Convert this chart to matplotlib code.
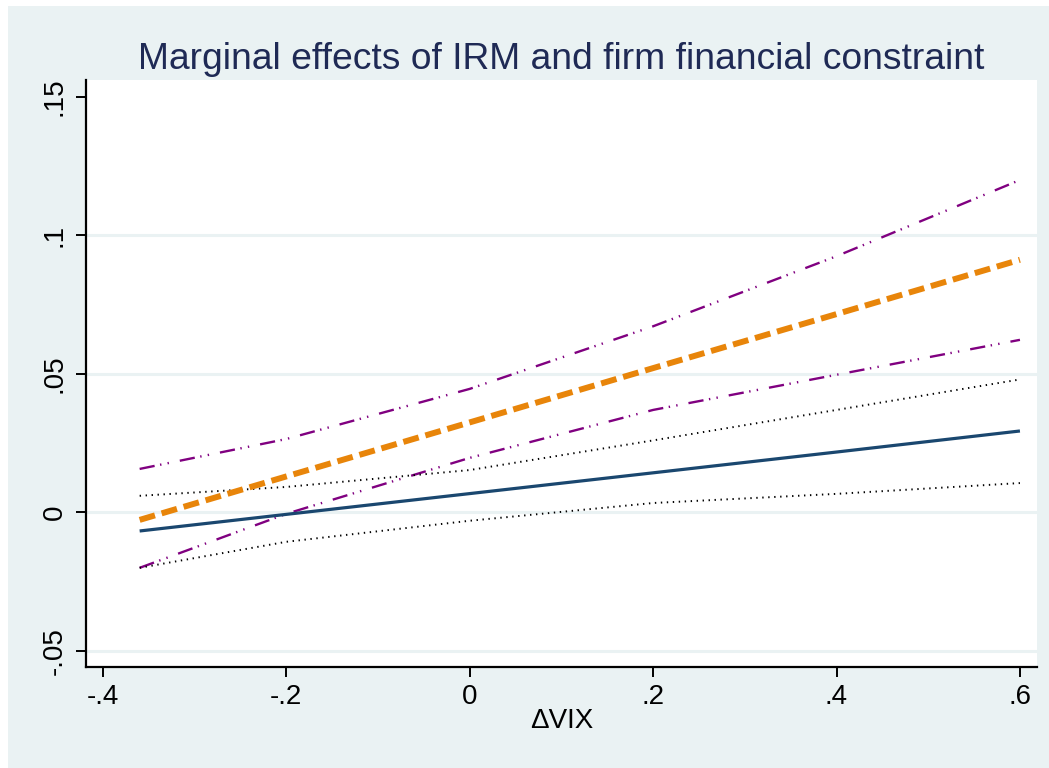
import matplotlib
matplotlib.use("Agg")
import matplotlib.pyplot as plt
from matplotlib.patches import Rectangle

# ---- data ----
dvix = [-0.36, -0.2, 0.0, 0.2, 0.4, 0.6]
# firm financial constraint effect (navy) and its CI (black dotted)
fc_eff = [-0.0067, -0.0007, 0.0068, 0.0143, 0.0218, 0.0294]
fc_hi = [0.0060, 0.0092, 0.0153, 0.0260, 0.0370, 0.0480]
fc_lo = [-0.0200, -0.0106, -0.0030, 0.0034, 0.0067, 0.0106]
# IRM effect (orange) and its CI (purple)
irm_eff = [-0.0027, 0.0130, 0.0325, 0.0521, 0.0716, 0.0912]
irm_hi = [0.0157, 0.0265, 0.0446, 0.0672, 0.0925, 0.1200]
irm_lo = [-0.0200, -0.0005, 0.0197, 0.0370, 0.0497, 0.0623]

xticks = [-0.4, -0.2, 0.0, 0.2, 0.4, 0.6]
xticklabels = ["-.4", "-.2", "0", ".2", ".4", ".6"]
yticks = [-0.05, 0.0, 0.05, 0.1, 0.15]
yticklabels = ["-.05", "0", ".05", ".1", ".15"]
ygrid = [-0.05, 0.0, 0.05, 0.1]

title = "Marginal effects of IRM and firm financial constraint"
xlabel = "\u0394VIX"

# ---- style ----
plt.rcParams["font.family"] = ["Liberation Sans", "DejaVu Sans"]
plt.rcParams["lines.scale_dashes"] = False

BG = "#EAF2F3"
NAVY = "#1A476F"
ORANGE = "#E8850A"
PURPLE = "#800080"
TITLE_C = "#1F2A55"

fig = plt.figure(figsize=(10.49, 7.68), dpi=100)
fig.patch.set_facecolor("white")
fig.patches.append(Rectangle((8 / 1049, 0), 1 - 8 / 1049, (768 - 6) / 768,
                             transform=fig.transFigure, facecolor=BG,
                             edgecolor="none", zorder=-10))

ax = fig.add_axes([86 / 1049, (768 - 667) / 768, (1037 - 86) / 1049, (667 - 80) / 768])
ax.set_facecolor("white")

for y in ygrid:
    ax.axhline(y, color=BG, lw=2.2, zorder=0)

purple_ls = (0, (11, 4.0, 1.0, 4.5, 1.0, 8))
dot_ls = (0, (1.0, 3.3))

ax.plot(dvix, irm_hi, color=PURPLE, lw=1.7, ls=purple_ls, zorder=3)
ax.plot(dvix, irm_lo, color=PURPLE, lw=1.7, ls=purple_ls, zorder=3)
ax.plot(dvix, fc_hi, color="black", lw=1.4, ls=dot_ls, zorder=3)
ax.plot(dvix, fc_lo, color="black", lw=1.4, ls=dot_ls, zorder=3)
ax.plot(dvix, fc_eff, color=NAVY, lw=2.3, ls="-", zorder=4, solid_capstyle="butt")
ax.plot(dvix, irm_eff, color=ORANGE, lw=4.3, ls=(0, (11.5, 5)), zorder=5,
        dash_capstyle="butt")

ax.set_xlim(-0.4185, 0.6186)
ax.set_ylim(-0.0558, 0.1561)

ax.set_xticks(xticks)
ax.set_xticklabels(xticklabels)
ax.set_yticks(yticks)
ax.set_yticklabels(yticklabels, rotation=90, va="center")

for s in ["top", "right"]:
    ax.spines[s].set_visible(False)
for s in ["left", "bottom"]:
    ax.spines[s].set_linewidth(1.6)
    ax.spines[s].set_color("black")

ax.tick_params(axis="both", direction="out", length=7, width=1.4, color="black",
               labelsize=20, labelcolor="black")
ax.tick_params(axis="x", pad=5)
ax.tick_params(axis="y", pad=6)

ax.set_xlabel(xlabel, fontsize=20, color="black", labelpad=-1)
ax.set_title(title, fontsize=26.8, color=TITLE_C, pad=8)

fig.savefig("out.png", dpi=100, facecolor=fig.get_facecolor())
